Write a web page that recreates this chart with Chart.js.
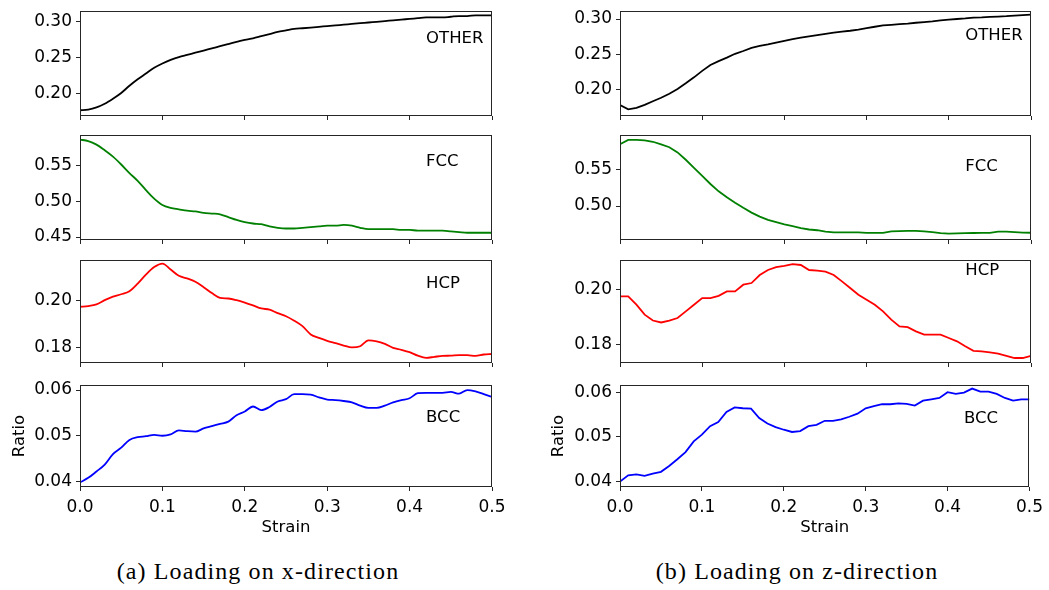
<!DOCTYPE html>
<html><head><meta charset="utf-8">
<script src="https://cdn.jsdelivr.net/npm/chart.js@4.4.0/dist/chart.umd.min.js"></script>
<style>
html,body{margin:0;padding:0;background:#fff;}
body{width:1049px;height:590px;position:relative;overflow:hidden;}
canvas{position:absolute;}
.cap{position:absolute;font-family:"Liberation Serif",serif;font-size:24px;line-height:24px;color:#000;white-space:nowrap;transform:translateX(-50%);letter-spacing:1.1px;}
</style></head><body>
<div class="cap" style="left:258px;top:559px">(a) Loading on x-direction</div>
<div class="cap" style="left:797px;top:559px">(b) Loading on z-direction</div>
<script>
// ---------- data ----------
const strain = [
  0.00,0.01,0.02,0.03,0.04,0.05,0.06,0.07,0.08,0.09,
  0.10,0.11,0.12,0.13,0.14,0.15,0.16,0.17,0.18,0.19,
  0.20,0.21,0.22,0.23,0.24,0.25,0.26,0.27,0.28,0.29,
  0.30,0.31,0.32,0.33,0.34,0.35,0.36,0.37,0.38,0.39,
  0.40,0.41,0.42,0.43,0.44,0.45,0.46,0.47,0.48,0.49,
  0.50];

// (a) loading on x-direction
const otherX = [
  0.177,0.178,0.181,0.186,0.193,0.201,0.211,0.220,0.228,0.236,
  0.242,0.247,0.251,0.254,0.257,0.260,0.263,0.266,0.269,0.272,
  0.275,0.277,0.280,0.283,0.286,0.288,0.290,0.291,0.292,0.293,
  0.294,0.295,0.296,0.297,0.298,0.299,0.300,0.301,0.302,0.303,
  0.304,0.305,0.306,0.306,0.306,0.307,0.308,0.308,0.309,0.309,
  0.309];
const fccX = [
  0.587,0.585,0.580,0.572,0.563,0.552,0.540,0.529,0.516,0.504,
  0.495,0.491,0.489,0.487,0.486,0.484,0.483,0.482,0.478,0.474,
  0.471,0.469,0.468,0.465,0.463,0.462,0.462,0.463,0.464,0.465,
  0.466,0.466,0.467,0.466,0.463,0.461,0.461,0.461,0.461,0.460,
  0.460,0.459,0.459,0.459,0.459,0.458,0.457,0.456,0.456,0.456,
  0.456];
const hcpX = [
  0.1972,0.1975,0.1982,0.2000,0.2015,0.2025,0.2038,0.2070,0.2108,0.2140,
  0.2155,0.2130,0.2103,0.2092,0.2078,0.2055,0.2030,0.2010,0.2007,0.2000,
  0.1990,0.1978,0.1965,0.1960,0.1945,0.1932,0.1913,0.1890,0.1855,0.1840,
  0.1828,0.1818,0.1808,0.1800,0.1805,0.1830,0.1826,0.1815,0.1798,0.1790,
  0.1780,0.1765,0.1756,0.1760,0.1764,0.1765,0.1767,0.1767,0.1764,0.1770,
  0.1772];
const bccX = [
  0.0398,0.0408,0.0422,0.0437,0.0460,0.0474,0.0491,0.0497,0.0499,0.0502,
  0.0500,0.0503,0.0512,0.0510,0.0509,0.0516,0.0521,0.0526,0.0531,0.0545,
  0.0553,0.0564,0.0556,0.0563,0.0575,0.0580,0.0591,0.0591,0.0590,0.0584,
  0.0579,0.0578,0.0576,0.0573,0.0566,0.0561,0.0561,0.0566,0.0573,0.0578,
  0.0582,0.0593,0.0594,0.0594,0.0594,0.0596,0.0592,0.0600,0.0597,0.0591,
  0.0585];

// (b) loading on z-direction
const otherZ = [
  0.1776,0.1714,0.1735,0.1778,0.1830,0.1880,0.1937,0.2005,0.2085,0.2170,
  0.2262,0.2345,0.2400,0.2450,0.2505,0.2545,0.2590,0.2618,0.2638,0.2665,
  0.2690,0.2715,0.2735,0.2752,0.2770,0.2790,0.2805,0.2820,0.2833,0.2850,
  0.2870,0.2890,0.2910,0.2918,0.2928,0.2935,0.2947,0.2957,0.2965,0.2980,
  0.2992,0.3000,0.3008,0.3020,0.3022,0.3030,0.3035,0.3040,0.3048,0.3055,
  0.3062];
const fccZ = [
  0.5840,0.5900,0.5900,0.5895,0.5875,0.5840,0.5800,0.5730,0.5630,0.5520,
  0.5410,0.5300,0.5200,0.5120,0.5045,0.4975,0.4910,0.4855,0.4810,0.4780,
  0.4750,0.4725,0.4700,0.4680,0.4670,0.4650,0.4640,0.4640,0.4640,0.4640,
  0.4635,0.4633,0.4633,0.4655,0.4658,0.4660,0.4660,0.4655,0.4643,0.4630,
  0.4625,0.4628,0.4630,0.4632,0.4633,0.4635,0.4650,0.4650,0.4645,0.4638,
  0.4636];
const hcpZ = [
  0.1974,0.1974,0.1944,0.1908,0.1887,0.1880,0.1887,0.1896,0.1920,0.1944,
  0.1968,0.1968,0.1976,0.1992,0.1992,0.2016,0.2022,0.2051,0.2069,0.2079,
  0.2084,0.2090,0.2087,0.2069,0.2067,0.2063,0.2051,0.2028,0.2004,0.1980,
  0.1962,0.1944,0.1920,0.1890,0.1866,0.1863,0.1848,0.1836,0.1836,0.1836,
  0.1824,0.1812,0.1794,0.1778,0.1776,0.1772,0.1768,0.1760,0.1752,0.1752,
  0.1760];
const bccZ = [
  0.0400,0.0414,0.0416,0.0413,0.0418,0.0422,0.0435,0.0450,0.0466,0.0490,
  0.0505,0.0524,0.0533,0.0556,0.0566,0.0564,0.0563,0.0542,0.0530,0.0522,
  0.0516,0.0511,0.0513,0.0524,0.0527,0.0536,0.0536,0.0539,0.0545,0.0552,
  0.0564,0.0569,0.0573,0.0573,0.0575,0.0574,0.0570,0.0581,0.0584,0.0587,
  0.0600,0.0596,0.0599,0.0608,0.0601,0.0601,0.0596,0.0587,0.0581,0.0584,
  0.0584];

// tick labels
const xTicks = [0.0,0.1,0.2,0.3,0.4,0.5];
const yTicksOther = [0.20,0.25,0.30];
const yTicksFccX = [0.45,0.50,0.55];
const yTicksFccZ = [0.50,0.55];
const yTicksHcp = [0.18,0.20];
const yTicksBcc = [0.04,0.05,0.06];
const phaseNames = ['OTHER','FCC','HCP','BCC'];
const xTitle = 'Strain';
const yTitle = 'Ratio';

// ---------- layout ----------
const FONT = '"DejaVu Sans", sans-serif';
const plotTops = [11, 135, 260, 385];
const plotBottoms = [116, 240, 363, 487];
const cols = [
  {canvasLeft: 10, canvasWidth: 510, yW: 70, padRight: 28, smooth: true},
  {canvasLeft: 549, canvasWidth: 500, yW: 71, padRight: 18, smooth: false}
];
const panels = [
  // column 0
  {col:0,row:0,data:otherX,color:'#000000',ymin:0.169,ymax:0.315,yticks:yTicksOther,labelY:0.27},
  {col:0,row:1,data:fccX,color:'#008000',ymin:0.4458,ymax:0.5935,yticks:yTicksFccX,labelY:0.55},
  {col:0,row:2,data:hcpX,color:'#ff0000',ymin:0.1734,ymax:0.217,yticks:yTicksHcp,labelY:0.205},
  {col:0,row:3,data:bccX,color:'#0000ff',ymin:0.0388,ymax:0.0611,yticks:yTicksBcc,labelY:0.053},
  // column 1
  {col:1,row:0,data:otherZ,color:'#000000',ymin:0.162,ymax:0.3114,yticks:yTicksOther,labelY:0.27},
  {col:1,row:1,data:fccZ,color:'#008000',ymin:0.4537,ymax:0.5967,yticks:yTicksFccZ,labelY:0.547},
  {col:1,row:2,data:hcpZ,color:'#ff0000',ymin:0.1734,ymax:0.2105,yticks:yTicksHcp,labelY:0.205},
  {col:1,row:3,data:bccZ,color:'#0000ff',ymin:0.0388,ymax:0.0616,yticks:yTicksBcc,labelY:0.053}
];

const framePlugin = {
  id: 'frame',
  afterDatasetsDraw(chart, args, opts) {
    const {ctx, chartArea: a, scales} = chart;
    ctx.save();
    ctx.strokeStyle = '#262626';
    ctx.lineWidth = 1;
    const l = Math.round(a.left) + 0.5, t = Math.round(a.top) + 0.5;
    const r = Math.round(a.right) - 0.5, b = Math.round(a.bottom) - 0.5;
    ctx.strokeRect(l, t, r - l, b - t);
    ctx.fillStyle = '#000';
    ctx.font = '16.5px ' + FONT;
    ctx.textAlign = 'left';
    ctx.textBaseline = 'alphabetic';
    ctx.fillText(opts.label, scales.x.getPixelForValue(opts.labelX), scales.y.getPixelForValue(opts.labelY));
    ctx.restore();
  }
};

panels.forEach(p => {
  const c = cols[p.col];
  const isBottom = p.row === 3;
  const padTop = 16;
  const xH = isBottom ? 51 : 6;
  const padBottom = isBottom ? 4 : 12;
  const plotH = plotBottoms[p.row] - plotTops[p.row];
  const cv = document.createElement('canvas');
  const h = padTop + plotH + xH + padBottom;
  cv.width = c.canvasWidth; cv.height = h;
  cv.style.left = c.canvasLeft + 'px';
  cv.style.top = (plotTops[p.row] - padTop) + 'px';
  cv.style.width = c.canvasWidth + 'px';
  cv.style.height = h + 'px';
  document.body.appendChild(cv);

  new Chart(cv, {
    type: 'line',
    data: {
      datasets: [{
        data: strain.map((s, i) => ({x: s, y: p.data[i]})),
        borderColor: p.color,
        borderWidth: 1.8,
        pointRadius: 0,
        tension: c.smooth ? 0.4 : 0,
        cubicInterpolationMode: c.smooth ? 'monotone' : 'default',
        fill: false
      }]
    },
    options: {
      responsive: false,
      animation: false,
      devicePixelRatio: 1,
      events: [],
      layout: {padding: {left: 0, top: padTop, right: c.padRight, bottom: padBottom}},
      plugins: {
        legend: {display: false},
        tooltip: {enabled: false},
        frame: {label: phaseNames[p.row], labelX: 0.42, labelY: p.labelY}
      },
      scales: {
        x: {
          type: 'linear', position: 'bottom', min: 0, max: 0.5,
          afterBuildTicks: s => { s.ticks = xTicks.map(v => ({value: v})); },
          afterFit: s => { s.height = xH; },
          border: {display: false},
          grid: {drawOnChartArea: false, drawTicks: true, tickLength: 4, color: '#262626', lineWidth: 1},
          ticks: {display: isBottom, padding: 6, color: '#000', autoSkip: false, maxRotation: 0,
                  font: {family: FONT, size: 17}, callback: v => Number(v).toFixed(1)},
          title: {display: isBottom, text: xTitle, color: '#000', padding: 0,
                  font: {family: FONT, size: 16.5}}
        },
        y: {
          type: 'linear', position: 'left', min: p.ymin, max: p.ymax,
          afterBuildTicks: s => { s.ticks = p.yticks.map(v => ({value: v})); },
          afterFit: s => { s.width = c.yW; },
          border: {display: false},
          grid: {drawOnChartArea: false, drawTicks: true, tickLength: 4, color: '#262626', lineWidth: 1},
          ticks: {padding: 4, color: '#000', font: {family: FONT, size: 17},
                  callback: v => Number(v).toFixed(2)},
          title: {display: isBottom, text: yTitle, color: '#000', padding: 0,
                  font: {family: FONT, size: 16.5}}
        }
      }
    },
    plugins: [framePlugin]
  });
});
</script>
</body></html>
